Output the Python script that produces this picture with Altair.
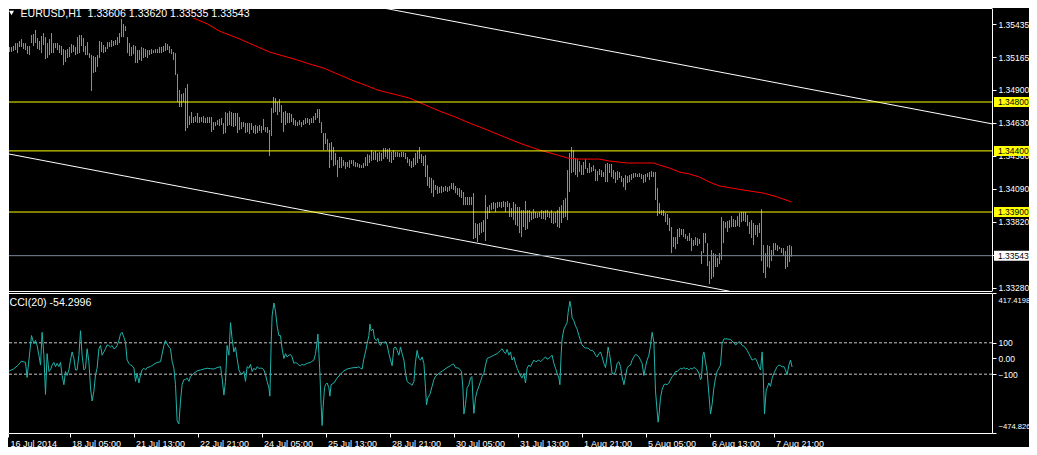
import json
import altair as alt
import pandas as pd

FONT = "Liberation Sans"

# ---- price bars (H1), bar 0 = first hourly bar on screen; prices in 1e-5 units ----
high_pts = [
    135233,135233,135250,135250,135258,135282,135282,135299,135315,135282,
    135282,135258,135258,135348,135356,135389,135323,135299,135340,135364,
    135331,135282,135315,135364,135282,135282,135282,135266,135258,135233,
    135225,135233,135250,135274,135266,135250,135331,135348,135348,135323,
    135258,135290,135200,135184,135176,135168,135184,135299,135290,135266,
    135250,135290,135290,135307,135299,135307,135331,135364,135479,135438,
    135421,135331,135282,135250,135266,135258,135225,135225,135250,135241,
    135233,135225,135225,135233,135225,135233,135233,135250,135250,135258,
    135282,135274,135258,135233,135209,135200,135029,134898,134865,134873,
    134914,134947,134685,
    134718,134677,134685,134710,134677,134677,134685,134669,134677,134677,
    134677,134636,134636,134652,134661,134669,134628,134718,134710,134726,
    134718,134710,134710,134710,134677,134636,134636,134628,134628,134628,
    134628,134603,134612,134603,134612,134603,134661,134595,134595,134571,
    134751,134841,134832,134800,134824,134775,134718,134726,134710,134710,
    134702,134669,134652,134636,134652,134636,134652,134669,134669,134661,
    134669,134685,134710,134742,134742,134636,134546,134546,134497,134464,
    134472,134432,134383,134325,134350,134350,134325,134309,134309,134325,
    134325,134325,134309,134301,134293,134284,134301,134350,134374,134366,
    134407,134391,134399,134383,134391,134383,134423,134423,134415,134423,
    134391,134407,134391,134391,134383,
    134391,134391,134383,134350,134333,134317,134342,134383,134399,134432,
    134374,134358,134366,134284,134186,134178,134162,134121,134113,134104,
    134113,134104,134113,134104,134113,134137,134137,134113,134096,134096,
    134080,134064,134023,134023,134023,134023,134055,133810,133802,133810,
    133818,133834,134039,133941,133957,133974,133982,133974,133982,133982,
    133982,133990,133982,133990,133974,133933,133982,133965,133941,133941,
    133916,133916,133990,133916,133916,133900,133924,133900,133892,133900,
    133916,133908,133916,133916,133900,133916,133892,133900,133916,133941,
    133957,133998,134014,134243,134383,134432,134407,134342,134333,134317,
    134284,134309,134333,134260,134301,
    134268,134284,134252,134235,134252,134243,134227,134293,134301,134293,
    134293,134243,134227,134235,134227,134194,134178,134203,134194,134203,
    134211,134219,134219,134211,134219,134211,134203,134211,134219,134227,
    134235,134227,134227,134096,133974,133916,133916,133892,133884,133851,
    133777,133695,133695,133761,133769,133761,133761,133720,133704,133728,
    133687,133671,133695,133687,133679,133581,133728,133728,133646,133499,
    133589,133564,133556,133524,133564,133859,133826,133818,133826,133834,
    133867,133843,133834,133867,133892,133900,133900,133900,133875,133818,
    133834,133810,133794,133794,133810,133924,133630,133564,133630,133622,
    133589,133646,133646,133630,133614,133605,133605,133581,133622,133630,
    133620,
]
low_pts = [
    135192,135200,135209,135209,135217,135225,135200,135250,135250,135233,
    135225,135192,135184,135282,135258,135282,135233,135225,135200,135266,
    135151,135160,135184,135200,135200,135241,135225,135200,135184,135102,
    135127,135160,135168,135200,135209,135184,135192,135200,135258,135209,
    135184,135184,135160,134890,135037,135045,135086,135160,135209,135200,
    135209,135233,135250,135250,135258,135266,135266,135282,135331,135331,
    135380,135200,135176,135176,135192,135119,135119,135143,135135,135160,
    135168,135160,135184,135192,135200,135200,135200,135200,135200,135209,
    135217,135225,135200,135192,135143,135021,134800,134759,134759,134800,
    134562,134587,134612,
    134628,134628,134636,134628,134628,134636,134628,134628,134628,134628,
    134554,134571,134603,134612,134603,134612,134538,134546,134603,134612,
    134603,134595,134603,134546,134571,134579,134595,134546,134554,134538,
    134571,134546,134538,134546,134562,134546,134571,134554,134546,134358,
    134522,134710,134718,134693,134718,134628,134554,134612,134628,134628,
    134636,134612,134603,134603,134612,134595,134612,134620,134628,134612,
    134628,134628,134652,134669,134628,134546,134407,134456,134407,134260,
    134325,134276,134284,134186,134260,134260,134276,134252,134268,134260,
    134293,134276,134268,134268,134260,134260,134260,134276,134276,134301,
    134317,134325,134325,134309,134317,134317,134333,134350,134333,134309,
    134301,134325,134350,134350,134350,
    134350,134350,134333,134301,134276,134260,134268,134284,134301,134333,
    134301,134276,134186,134113,134096,134055,134023,134080,134047,134055,
    134055,134064,134072,134064,134072,134088,134080,134055,134039,134023,
    134014,133957,133957,133957,133957,133957,133679,133687,133654,133712,
    133728,133736,133663,133843,133892,133916,133924,133900,133933,133941,
    133933,133941,133900,133941,133859,133859,133834,133794,133785,133728,
    133695,133777,133753,133761,133818,133834,133843,133851,133851,133859,
    133843,133843,133834,133859,133851,133810,133802,133810,133777,133769,
    133810,133851,133859,133834,134064,134219,134227,134203,134186,134227,
    134203,134203,134252,134219,134219,
    134227,134235,134153,134153,134203,134186,134186,134145,134145,134219,
    134186,134170,134137,134162,134178,134145,134104,134080,134137,134145,
    134162,134178,134186,134186,134186,134170,134137,134145,134186,134162,
    134186,134186,133998,133867,133884,133875,133867,133818,133794,133744,
    133564,133614,133597,133638,133695,133712,133695,133679,133663,133663,
    133581,133622,133630,133622,133638,133474,133564,133646,133458,133311,
    133352,133368,133450,133450,133474,133507,133646,133769,133736,133769,
    133777,133777,133777,133785,133777,133818,133826,133818,133785,133720,
    133687,133630,133712,133695,133728,133499,133401,133360,133450,133442,
    133499,133548,133589,133581,133597,133564,133540,133434,133450,133491,
    133535,
]

# ---- moving average (red) ----
ma_bar = [72, 77, 85, 94, 101, 107, 116, 124, 132, 139,
          146, 152, 159, 166, 173, 181, 186, 196, 202, 210,
          217, 225, 232, 241, 247, 257, 267, 276, 281, 287,
          297, 302, 311, 324, 327, 332, 337, 342, 347, 352,
          357, 366, 372, 379, 386, 393]
ma_pts = [135601, 135585, 135544, 135487, 135438, 135380, 135323, 135266, 135209, 135176,
          135143, 135111, 135078, 135029, 134980, 134931, 134898, 134857, 134832, 134775,
          134726, 134677, 134628, 134571, 134530, 134464, 134407, 134366, 134342, 134333,
          134333, 134317, 134301, 134301, 134284, 134260, 134227, 134211, 134186, 134145,
          134113, 134088, 134072, 134055, 134023, 133982]

# ---- CCI(20) ----
cci_bar = [
    0, 2, 4, 6, 8, 10, 10.8, 13, 14.2, 15, 15.8, 16.7, 17.5, 18.3, 19.2, 20, 20.8, 21.7, 22.5, 23.3,
    24.2, 25, 25.8, 26.7, 27.5, 28.3, 29.2, 30, 30.8, 31.7, 32.5, 33.3, 34.2, 35, 35.8, 36.7, 37.5, 38.3, 39.2, 40,
    40.8, 41.7, 42.5, 43.3, 44.2, 45, 45.8, 46.7, 47.5, 48.3, 49.2, 50, 50.8, 51.7, 52.5, 53.3, 54.2, 55, 55.8, 56.7,
    57.5, 58.3, 59.2, 60, 60.8, 61.7, 62.5, 63.3, 64.2, 65, 65.8, 66.7, 67.5, 68.3, 69.2, 70, 70.8, 72.5, 74.2, 75.8,
    77.5, 79.2, 80, 80.8, 81.7, 82.5, 83.3, 84.2, 85, 85.8, 86.7, 87.5, 88.3, 89.2, 90, 90.8, 91.7, 92.5, 94.2, 95.8,
    97.5, 99.2, 100.8, 102.5, 104.2, 105.8, 107.5, 108.3, 109.2, 110, 110.8, 111.7, 112.5, 113.3, 114.2, 115, 115.8, 116.7, 117.5, 118.3,
    119.2, 120, 120.8, 121.7, 122.5, 123.3, 124.2, 125, 125.8, 126.7, 127.5, 128.3, 129.2, 130, 130.8, 131.7, 132.2, 132.8, 133.3, 134.2,
    135, 135.8, 136.7, 137.5, 138.3, 139.2, 140, 140.8, 141.7, 142.5, 143.3, 144.2, 145, 145.8, 146.7, 147.5, 148.3, 149.2, 150.8, 152.5,
    154.2, 155, 155.8, 156.2, 156.7, 157.2, 157.8, 158.3, 158.8, 159.5, 160, 160.8, 161.7, 162.2, 162.8, 164.2, 165.8, 167.5, 169.2, 170.8,
    172.5, 174.2, 175.8, 176.7, 177.5, 178.3, 179.2, 180, 180.8, 181.7, 182.2, 182.8, 183.8, 184.5, 185.5, 186.2, 186.8, 187.5, 188.3, 189.2,
    190, 190.8, 191.7, 192.5, 193.3, 194.2, 195, 195.8, 196.7, 197.5, 198.3, 199.2, 200, 200.8, 201.7, 202.5, 203.3, 204.2, 205, 205.8,
    206.7, 207.5, 208.3, 209.2, 210, 210.5, 211.2, 212.2, 213.3, 214.2, 215, 215.8, 217.5, 219.2, 220.8, 222.5, 223.3, 224.2, 225, 226.7,
    228, 228.7, 229.2, 230, 230.8, 231.7, 232.5, 233.2, 233.8, 234.2, 235, 235.8, 236.7, 237.5, 238.3, 239.2, 240, 240.8, 242.5, 244.2,
    245.8, 247.5, 248.3, 249.2, 250, 250.8, 251.7, 252.5, 253.3, 254.2, 255, 255.8, 257.2, 258.3, 259.2, 260, 260.8, 261.7, 262.5, 263.3,
    264.2, 265, 265.8, 266.7, 267.5, 268.3, 269.2, 270, 270.8, 271.7, 272.5, 273.3, 274.2, 275, 275.8, 276.7, 277.2, 277.8, 278.3, 279.2,
    280, 280.8, 281.3, 282.2, 282.8, 283.3, 284.2, 285, 285.8, 286.7, 287.5, 288.3, 289.2, 290, 290.8, 291.7, 292.5, 293.3, 294.2, 295,
    295.8, 296.7, 297.5, 298.3, 299.2, 300, 300.8, 301.3, 302, 302.5, 303.3, 304.2, 305, 305.8, 306.7, 307.5, 308.3, 309.2, 310, 310.8,
    311.7, 312.5, 313.3, 314.2, 315, 315.8, 316.7, 317.5, 318.3, 319.2, 320, 320.8, 321.7, 322.5, 323.3, 324.2, 325, 325.8, 326.3, 326.8,
    327.5, 328.3, 329.2, 330, 330.8, 331.7, 332.5, 333.3, 334.2, 335, 335.8, 336.7, 337.5, 338.3, 339.2, 340, 340.8, 341.7, 342.5, 343.3,
    344.2, 345, 345.8, 346.7, 347.5, 348, 348.7, 349.2, 350, 350.8, 351.7, 352.5, 353.3, 354.2, 355, 355.8, 356.7, 357.5, 358.3, 359.2,
    360, 360.8, 362.5, 364.2, 365, 365.8, 366.7, 367.5, 368.3, 369.2, 370, 370.8, 371.7, 372.5, 373.3, 374.2, 375, 375.8, 376.7, 377.5,
    378.3, 378.8, 379.5, 380.3, 380.8, 381.7, 382.5, 383.3, 384.2, 385, 385.8, 386.7, 387.5, 388.3, 389.2, 390, 390.8, 391.7, 392.5, 393.3,
]
cci_val = [
    -94, -79, -67, -46, -17, -25, -121, 146, 94, 115, 83, 21, -42, 167, 21, -229, 31, -83, -73, -42,
    -25, -52, -31, -52, -25, -108, -167, -83, -108, -73, -10, 42, 0, -73, -73, 21, 177, 21, -73, -62,
    62, -21, -187, -271, -208, -104, -62, 62, 83, 21, 42, 62, 87, 83, 73, 83, 62, 67, 83, 115,
    156, 167, 135, 104, -10, -31, -42, -46, -62, -146, -94, -156, -104, -73, -62, -73, -58, -52, -37, -25,
    -21, 83, 115, 94, 73, 62, -17, -62, -167, -396, -417, -271, -167, -135, -135, -125, -146, -115, -94, -79,
    -73, -67, -62, -65, -67, -58, -52, -125, -233, -146, 83, 21, 229, 125, 42, 73, 0, -73, -94, -100,
    -83, -146, -52, -62, -37, -83, -62, -73, -52, -62, -62, -62, -73, -104, -146, -187, -240, 83, 271, 354,
    302, 208, 146, 146, 62, 0, 31, 10, 21, 25, 10, -31, -25, -31, -42, -46, -37, -42, -31, -25,
    -10, 31, 104, 156, 31, -94, -292, -427, -312, -187, -167, -156, -187, -240, -167, -156, -125, -100, -79, -67,
    -62, -58, -58, -52, -62, -67, 0, 42, 94, 146, 219, 177, 187, 125, 115, 129, 94, 83, 104, 100,
    108, 87, 31, -10, -46, 67, 73, 52, 21, 73, 31, -10, -94, -146, -156, -162, -171, -146, -21, 52,
    0, -10, 10, -31, -187, -296, -250, -229, -177, -135, -115, -104, -87, -73, -58, -46, -37, -37, -58, -62,
    -83, -187, -354, -292, -187, -167, -125, -115, -271, -350, -250, -208, -177, -146, -115, -94, -42, 0, 10, 21,
    31, 52, 62, 42, 31, 58, 21, 42, -10, 10, -31, -62, -104, -125, -94, -156, -62, -42, -52, -31,
    -10, -21, -17, -10, -21, -10, 0, 10, -4, 0, 10, 21, -31, -62, -94, -125, -167, 21, 125, 187,
    208, 229, 292, 365, 323, 260, 240, 208, 187, 146, 115, 87, 73, 67, 67, 62, 52, 52, 42, 21,
    10, 31, 42, 10, -31, -58, 10, 73, 31, -10, -94, -100, -83, -31, -21, -52, -115, -167, -115, -62,
    -46, -42, -10, 10, 25, 21, 10, -10, -31, -108, -52, -10, 21, 83, 167, 104, -208, -333, -406, -354,
    -250, -198, -167, -163, -167, -156, -135, -115, -104, -83, -83, -73, -62, -67, -58, -67, -62, -73, -62, -67,
    -58, -62, -73, -94, -135, -125, 21, 42, -21, -83, -229, -354, -292, -187, -125, -83, -62, -42, 94, 125,
    125, 125, 121, 100, 87, 94, 108, 100, 83, 79, 67, 52, 31, 10, -10, -4, 0, -21, -52, -73,
    42, -83, -354, -208, -187, -156, -177, -125, -94, -73, -52, -42, -46, -52, -52, -73, -104, -42, -10, -54.2996,
]

# ---- drawn objects ----
trend_name = ["upper", "upper", "lower", "lower"]
trend_bar = [170, 494, 0, 362]
trend_pts = [135628, 134619, 134380, 133252]

level_price = [1.34800, 1.34400, 1.33900]
bid_price = 1.33543

price_ticks = [1.35435, 1.35165, 1.34900, 1.34630, 1.34360, 1.34090, 1.33820, 1.33550, 1.33280]
cci_ticks = [417.4198, 100, 0, -100, -474.8266]
cci_levels = [100, -100]
time_tick_bar = [1.25, 32, 64, 96, 128, 160, 192, 224, 256, 288, 320, 352, 384]
time_tick_label = ["16 Jul 2014", "18 Jul 05:00", "21 Jul 13:00", "22 Jul 21:00",
                   "24 Jul 05:00", "25 Jul 13:00", "28 Jul 21:00", "30 Jul 05:00",
                   "31 Jul 13:00", "1 Aug 21:00", "5 Aug 05:00", "6 Aug 13:00",
                   "7 Aug 21:00"]

title_text = "EURUSD,H1\u00a0 1.33606 1.33620 1.33535 1.33543"
cci_text = "CCI(20) -54.2996"

# ---- tables ----
bars_df = pd.DataFrame({"i": list(range(len(high_pts))),
                        "hi": [v / 1e5 for v in high_pts],
                        "lo": [v / 1e5 for v in low_pts]})
ma_df = pd.DataFrame({"i": ma_bar, "p": [v / 1e5 for v in ma_pts]})
trend_df = pd.DataFrame({"name": trend_name, "i": trend_bar, "p": [v / 1e5 for v in trend_pts]})
cci_df = pd.DataFrame({"i": cci_bar, "v": cci_val})
lev_df = pd.DataFrame({"p": level_price})
bid_df = pd.DataFrame({"p": [bid_price]})
box_df = pd.DataFrame({"p": level_price + [bid_price],
                       "t": ["%.5f" % v for v in level_price] + ["%.5f" % bid_price],
                       "fill": ["#FFFF00"] * len(level_price) + ["#FFFFFF"]})
cci_lev_df = pd.DataFrame({"v": cci_levels})
one = pd.DataFrame({"k": [0]})

W, H = 984, 425
MAIN_BOTTOM = 283
CCI_TOP = 285
AX_FS = 8.5

xs = alt.Scale(domain=[1.25, 493.25], range=[0, W], nice=False, zero=False)
ys_price = alt.Scale(domain=[1.33254, 1.35569], range=[MAIN_BOTTOM, 0], nice=False, zero=False)
ys_cci = alt.Scale(domain=[-474.8266, 417.4198], range=[H, CCI_TOP], nice=False, zero=False)

common_axis = dict(title=None, grid=False, domainColor="white", tickColor="white",
                   labelColor="white", labelFont=FONT, tickSize=4,
                   domainWidth=1, tickWidth=1, labelOverlap=False)

x_axis = alt.Axis(values=time_tick_bar, orient="bottom",
                  labelExpr=f"{json.dumps(time_tick_label)}[indexof({json.dumps(time_tick_bar)}, datum.value)]",
                  labelAlign="left", labelOffset=2, labelPadding=9, labelBaseline="alphabetic",
                  labelFlush=False, labelBound=False, labelFontSize=9, **common_axis)
price_axis = alt.Axis(values=price_ticks, orient="right", format=".5f", labelPadding=2,
                      labelFlush=False, labelFontSize=AX_FS, **common_axis)
cci_axis = alt.Axis(values=cci_ticks, orient="right", labelPadding=2,
                    labelExpr="datum.value == 0 ? '0.00' : (abs(datum.value) == 100 ? format(datum.value, 'd') : format(datum.value, '.4f'))",
                    labelFlush=False,
                    labelOffset={"condition": [{"test": "datum.value > 400", "value": 7},
                                               {"test": "datum.value < -400", "value": -7}],
                                 "value": 0},
                    labelFontSize={"condition": {"test": "abs(datum.value) > 400", "value": 7.6},
                                   "value": AX_FS},
                    **common_axis)

X = lambda: alt.X("i:Q", scale=xs, axis=x_axis)

bars = alt.Chart(bars_df).mark_rule(color="#32CD32", strokeWidth=1, clip=True).encode(
    x=X(), y=alt.Y("lo:Q", scale=ys_price, axis=price_axis), y2="hi:Q")
ma = alt.Chart(ma_df).mark_line(color="#FF0000", strokeWidth=1, clip=True).encode(
    x=X(), y=alt.Y("p:Q", scale=ys_price, axis=price_axis))
trend = alt.Chart(trend_df).mark_line(color="white", strokeWidth=1, clip=True).encode(
    x=X(), y=alt.Y("p:Q", scale=ys_price, axis=price_axis), detail="name:N")
levels = alt.Chart(lev_df).mark_rule(color="#FFFF00", strokeWidth=1).encode(
    y=alt.Y("p:Q", scale=ys_price, axis=price_axis))
bidline = alt.Chart(bid_df).mark_rule(color="#778899", strokeWidth=1).encode(
    y=alt.Y("p:Q", scale=ys_price, axis=price_axis))
box_rule = alt.Chart(box_df).mark_rule(strokeWidth=10, strokeCap="butt").encode(
    x=alt.value(W + 2), x2=alt.value(W + 41),
    y=alt.Y("p:Q", scale=ys_price, axis=price_axis),
    color=alt.Color("fill:N", scale=None))
box_text = alt.Chart(box_df).mark_text(align="left", baseline="middle", font=FONT,
                                       fontSize=AX_FS, color="black").encode(
    x=alt.value(W + 6), y=alt.Y("p:Q", scale=ys_price, axis=price_axis), text="t:N")

price_group = alt.layer(bars, ma, trend, levels, bidline, box_rule, box_text)

cci_line = alt.Chart(cci_df).mark_line(color="#20B2AA", strokeWidth=1, clip=True).encode(
    x=X(), y=alt.Y("v:Q", scale=ys_cci, axis=cci_axis))
cci_lev = alt.Chart(cci_lev_df).mark_rule(color="#C8C8C8", strokeWidth=1, strokeDash=[3, 2]).encode(
    y=alt.Y("v:Q", scale=ys_cci, axis=cci_axis))
cci_group = alt.layer(cci_lev, cci_line)

# frame and captions
title_bg = alt.Chart(one).mark_rect(color="black").encode(
    x=alt.value(11), x2=alt.value(216), y=alt.value(1), y2=alt.value(10))
frame_top = alt.Chart(one).mark_rule(color="white", strokeWidth=1).encode(
    x=alt.value(0), x2=alt.value(W), y=alt.value(0.5))
frame_mid1 = alt.Chart(one).mark_rule(color="white", strokeWidth=1).encode(
    x=alt.value(0), x2=alt.value(W), y=alt.value(MAIN_BOTTOM + 0.5))
frame_mid2 = alt.Chart(one).mark_rule(color="white", strokeWidth=1).encode(
    x=alt.value(0), x2=alt.value(W), y=alt.value(CCI_TOP + 0.5))
frame_left = alt.Chart(one).mark_rule(color="white", strokeWidth=1).encode(
    x=alt.value(0.5), y=alt.value(0), y2=alt.value(H))
tri = alt.Chart(one).mark_point(shape="triangle-down", filled=True, size=26, color="white",
                                opacity=1).encode(x=alt.value(3.5), y=alt.value(5))
title = alt.Chart(one).mark_text(align="left", baseline="middle", font=FONT, fontSize=10.6,
                                 color="white").encode(
    x=alt.value(12.5), y=alt.value(5.5), text=alt.value(title_text))
cci_title = alt.Chart(one).mark_text(align="left", baseline="middle", font=FONT, fontSize=10.6,
                                     color="white").encode(
    x=alt.value(1.5), y=alt.value(CCI_TOP + 10), text=alt.value(cci_text))

deco = alt.layer(title_bg, frame_top, frame_mid1, frame_mid2, frame_left, tri, title, cci_title)

chart = alt.layer(price_group, cci_group, deco).resolve_scale(y="independent").properties(
    width=W, height=H,
    autosize=alt.AutoSizeParams(type="none"),
    padding={"left": 0, "top": 0, "right": 37, "bottom": 14},
    background="black",
).configure_view(strokeWidth=0)

chart.save("out.html", embed_options={"renderer": "svg", "actions": False})
